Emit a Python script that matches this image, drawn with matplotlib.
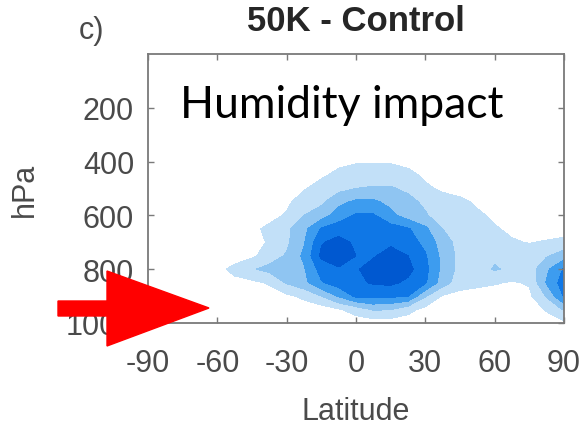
"""Zonal-mean humidity response, 50K minus control, filled contours by latitude and pressure."""
import matplotlib
matplotlib.use("Agg")
import matplotlib.pyplot as plt  # noqa: E402
from matplotlib.patches import Polygon  # noqa: E402

W, H = 584, 427
INK, TICK, SPINE = "#262626", "#4a4a4a", "#7a7a7a"
FILLS = ["#c2e0f8", "#8fc5f2", "#3d9cef", "#0f77e6", "#0058d0"]
LEVELS = [0.5, 1.5, 2.5, 3.5, 4.5, 6.0]

# grid: latitude every 7.5 deg, pressure every 50 hPa
LAT = [-90, -82.5, -75, -67.5, -60, -52.5, -45, -37.5, -30, -22.5, -15, -7.5,
       0, 7.5, 15, 22.5, 30, 37.5, 45, 52.5, 60, 67.5, 75, 82.5, 90]
PRES = [0, 50, 100, 150, 200, 250, 300, 350, 400, 450, 500, 550, 600, 650,
        700, 750, 800, 850, 900, 950, 1000]

# humidity change (contour class units), one row per pressure level
P0 = [0] * 25
P50 = [0] * 25
P100 = [0] * 25
P150 = [0] * 25
P200 = [0] * 25
P250 = [0] * 25
P300 = [0] * 25
P350 = [0] * 25
P400 = [0, 0, 0, 0, 0, 0, 0, 0, 0, 0, 0, 0.2, 0.4, 0.4, 0.4, 0.2,
        0, 0, 0, 0, 0, 0, 0, 0, 0]
P450 = [0, 0, 0, 0, 0, 0, 0, 0, 0, 0, 0.3, 0.8, 1.0, 1.0, 1.0, 0.8,
        0.3, 0, 0, 0, 0, 0, 0, 0, 0]
P500 = [0, 0, 0, 0, 0, 0, 0, 0, 0, 0.4, 1.0, 1.2, 1.5, 1.6, 1.6, 1.3,
        0.7, 0.3, 0, 0, 0, 0, 0, 0, 0]
P550 = [0, 0, 0, 0, 0, 0, 0, 0, 0.3, 1.0, 1.3, 2.2, 2.7, 2.7, 2.2, 1.8,
        1.3, 1.0, 0.8, 0.3, 0, 0, 0, 0, 0]
P600 = [0, 0, 0, 0, 0, 0, 0, 0.2, 0.6, 1.5, 2.0, 3.0, 3.6, 3.6, 2.8, 2.0,
        1.6, 1.0, 1.0, 0.7, 0.3, 0, 0, 0, 0]
P650 = [0, 0, 0, 0, 0, 0, 0.3, 0.7, 1.3, 2.2, 3.6, 4.0, 4.2, 4.1, 3.9, 3.6,
        2.7, 1.5, 1.0, 1.0, 0.6, 0.3, 0.2, 0, 0]
P700 = [0, 0, 0, 0, 0, 0, 0.15, 0.6, 1.3, 2.4, 4.4, 4.9, 4.3, 4.2, 4.3, 4.0,
        3.2, 2.0, 1.1, 1.0, 1.0, 0.6, 0.45, 0.6, 0.8]
P750 = [0, 0, 0, 0, 0, 0, 0.3, 1.0, 1.6, 2.7, 4.7, 5.0, 4.5, 4.4, 4.9, 4.5,
        3.6, 2.2, 1.2, 1.0, 1.3, 1.4, 1.1, 1.4, 2.0]
P800 = [0, 0, 0, 0, 0.2, 0.8, 1.4, 1.8, 1.8, 2.4, 3.9, 4.4, 4.4, 4.9, 5.0, 4.8,
        3.8, 2.2, 1.2, 1.0, 1.6, 1.3, 1.0, 2.3, 3.6]
P850 = [0, 0, 0, 0, 0, 0.2, 0.3, 0.6, 1.6, 2.2, 3.4, 4.0, 4.3, 4.6, 4.7, 4.3,
        3.6, 2.0, 0.9, 0.8, 0.6, 0.4, 0.6, 2.6, 4.0]
P900 = [0, 0, 0, 0, 0, 0, 0, 0.1, 0.3, 0.7, 1.5, 2.6, 3.7, 3.8, 3.7, 3.5,
        1.6, 0.4, 0.2, 0, 0, 0, 0.3, 1.6, 3.6]
P950 = [0, 0, 0, 0, 0, 0, 0, 0, 0, 0, 0, 0.4, 0.9, 1.6, 1.5, 0.8,
        0.2, 0, 0, 0, 0, 0, 0, 0.6, 1.6]
P1000 = [0] * 24 + [0.3]

DQ = [P0, P50, P100, P150, P200, P250, P300, P350, P400, P450, P500, P550,
      P600, P650, P700, P750, P800, P850, P900, P950, P1000]

XTICKS = [-90, -60, -30, 0, 30, 60, 90]
YTICKS = [200, 400, 600, 800, 1000]


def px(x, y):
    # pixel position (top-left origin) -> figure fraction
    return x / W, 1 - y / H


def main():
    plt.rcParams["font.family"] = ["Liberation Sans", "DejaVu Sans"]
    plt.rcParams["axes.unicode_minus"] = False
    fig = plt.figure(figsize=(W / 100, H / 100), dpi=100)
    l, t = px(148, 55)
    r, b = px(564, 324)
    ax = fig.add_axes([l, b, r - l, t - b])

    ax.contourf(LAT, PRES, DQ, levels=LEVELS, colors=FILLS)
    ax.set_xlim(-90, 90)
    ax.set_ylim(1000, 0)
    ax.set_xticks(XTICKS)
    ax.set_yticks(YTICKS)
    ax.tick_params(direction="in", top=True, right=True, length=4,
                   width=1, color=SPINE, labelsize=22, labelcolor=TICK)
    ax.tick_params(axis="x", pad=18)
    ax.tick_params(axis="y", pad=10)
    for sp in ax.spines.values():
        sp.set_color(SPINE)
        sp.set_linewidth(1.3)

    ax.set_xlabel("Latitude", fontsize=22, color=TICK)
    ax.xaxis.label.set_va("center")
    ax.xaxis.set_label_coords(0.5, -0.327)
    ax.set_ylabel("hPa", fontsize=22, color=TICK)
    ax.yaxis.label.set_va("center")
    ax.yaxis.set_label_coords(-0.296, 0.5)
    ax.set_title("50K - Control", fontsize=25, fontweight="bold", color=INK,
                 y=1.093, va="center")
    fig.text(*px(92, 31), "c)", fontsize=22, color=TICK,
             ha="center", va="center")

    # slide overlay: caption and red pointer
    fig.text(*px(180, 118), "Humidity impact", fontsize=32, family="Lato",
             color="black", ha="left", va="baseline")
    arrow = [(58, 302), (107, 302), (107, 272), (209, 309), (107, 347),
             (107, 317), (58, 317)]
    fig.patches.append(Polygon([px(x, y) for x, y in arrow], closed=True,
                               transform=fig.transFigure, color="#ff0000",
                               zorder=10))

    fig.savefig("out.png", dpi=100, facecolor="white")


if __name__ == "__main__":
    main()
